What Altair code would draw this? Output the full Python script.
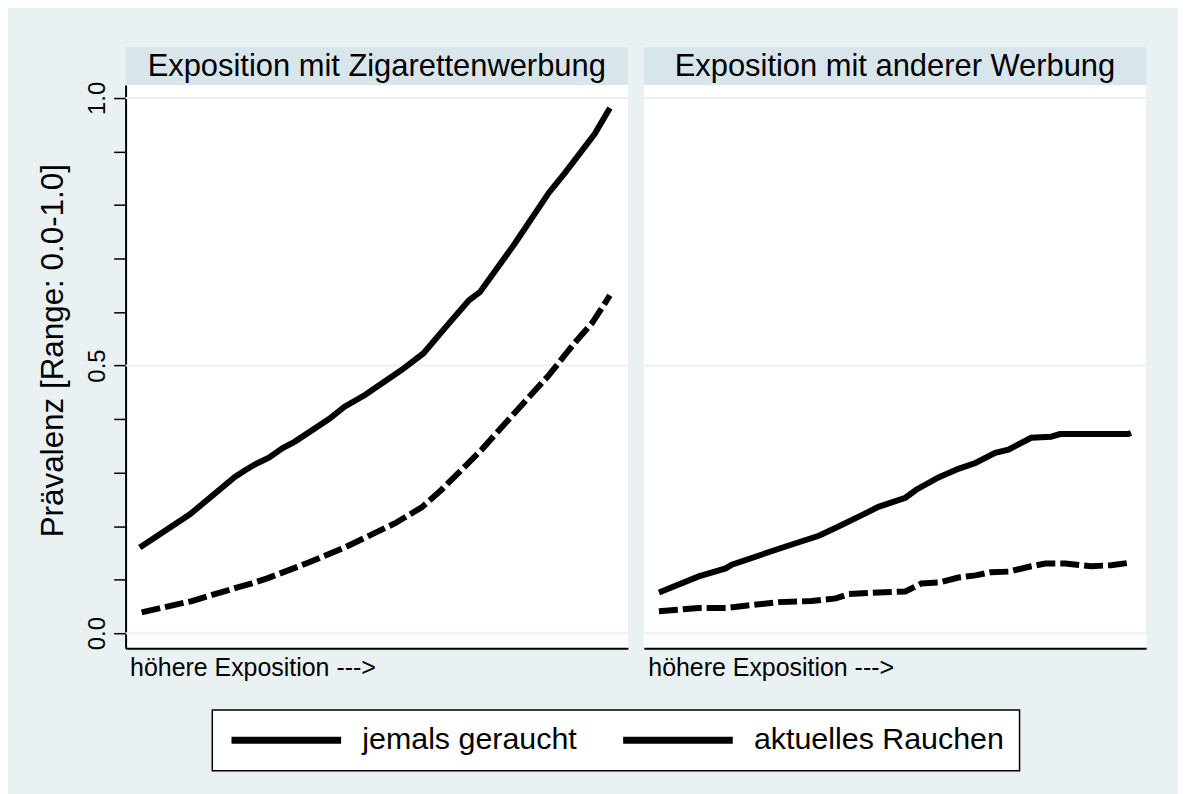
import altair as alt
import pandas as pd

panels = ["Exposition mit Zigarettenwerbung", "Exposition mit anderer Werbung"]
series = ["jemals geraucht", "aktuelles Rauchen"]

# Left panel: Exposition mit Zigarettenwerbung
zig_ever_x = [0, 10.6, 20.1, 22.2, 24.3, 27.3, 30.2, 32.8, 40.0, 43.3, 47.6, 55.4, 60.0, 64.5,
              69.6, 71.9, 79.3, 86.5, 89.9, 96.2, 99.4]
zig_ever_y = [0.160, 0.222, 0.292, 0.304, 0.315, 0.328, 0.346, 0.358, 0.400, 0.423, 0.445, 0.492,
              0.523, 0.570, 0.622, 0.637, 0.728, 0.823, 0.860, 0.933, 0.981]
zig_curr_x = [0.4, 11.0, 20.1, 23.7, 26.8, 30.4, 35.7, 43.3, 53.9, 59.6, 63.8, 72.3, 79.3, 86.5,
              91.9, 95.6, 99.4]
zig_curr_y = [0.039, 0.060, 0.084, 0.093, 0.102, 0.114, 0.132, 0.160, 0.205, 0.235, 0.268, 0.343,
              0.412, 0.482, 0.542, 0.579, 0.631]

# Right panel: Exposition mit anderer Werbung
and_ever_x = [0.2, 8.6, 14.3, 15.6, 27.0, 34.0, 37.6, 43.0, 46.6, 52.3, 54.6, 59.3, 63.5, 67.1,
              71.3, 74.1, 78.9, 83.1, 85.0, 99.4, 100]
and_ever_y = [0.076, 0.106, 0.121, 0.128, 0.162, 0.182, 0.197, 0.220, 0.236, 0.253, 0.268, 0.291,
              0.307, 0.318, 0.337, 0.343, 0.365, 0.367, 0.372, 0.372, 0.374]
and_curr_x = [0.2, 8.6, 14.3, 17.1, 25.5, 32.5, 37.6, 40.3, 46.6, 52.3, 55.7, 59.7, 63.5, 67.1,
              70.5, 74.1, 78.9, 81.9, 86.1, 91.6, 95.8, 100]
and_curr_y = [0.041, 0.047, 0.047, 0.050, 0.058, 0.060, 0.065, 0.073, 0.076, 0.078, 0.093, 0.095,
              0.104, 0.108, 0.114, 0.115, 0.125, 0.130, 0.130, 0.125, 0.127, 0.132]

grid_vals = [0.0, 0.5, 1.0]
tick_vals = [0.0, 0.1, 0.2, 0.3, 0.4, 0.5, 0.6, 0.7, 0.8, 0.9, 1.0]

BG = "#E9F1F3"
STRIP = "#D8E5EA"
GRID = "#EAF2F3"
FONT = "Liberation Sans"
W, H = 504, 565


def frame(panel, name, xs, ys):
    return pd.DataFrame({"panel": panel, "series": name, "x": xs, "y": ys})


df = pd.concat([
    frame(panels[0], series[0], zig_ever_x, zig_ever_y),
    frame(panels[0], series[1], zig_curr_x, zig_curr_y),
    frame(panels[1], series[0], and_ever_x, and_ever_y),
    frame(panels[1], series[1], and_curr_x, and_curr_y),
], ignore_index=True)

xscale = alt.Scale(domain=[-3.0, 103.2], nice=False, zero=False)
yscale = alt.Scale(domain=[-0.028, 1.024], nice=False, zero=False)

legend = alt.Legend(
    title=None, orient="none", legendX=87, legendY=627, direction="horizontal",
    fillColor="white", strokeColor="black", padding=15,
    symbolType="M-5,0H5", symbolSize=484, symbolStrokeWidth=7, symbolOffset=44,
    symbolDash=[1, 0],
    labelFontSize=30.5, labelFont=FONT, labelColor="black", labelOffset=61,
    columnPadding=32, labelLimit=0,
)


def make_panel(i):
    d = df[df.panel == panels[i]]
    if i == 0:
        yaxis = alt.Axis(
            values=tick_vals, grid=False, title="Prävalenz [Range: 0.0-1.0]",
            labelExpr="abs(datum.value*2 - round(datum.value*2)) < 0.001 ? format(datum.value, '.1f') : ''",
            labelAngle=270, labelAlign="center", labelBaseline="bottom",
            labelFontSize=24, labelFont=FONT, labelColor="black", labelPadding=4,
            tickSize=12, tickColor="black", tickWidth=1.5,
            domainColor="black", domainWidth=2,
            titleFontSize=31.5, titleFont=FONT, titleFontWeight="normal", titleColor="black",
            titlePadding=16, titleY=266,
        )
    else:
        yaxis = None
    xaxis = alt.Axis(
        title="höhere Exposition --->", labels=False, ticks=False, grid=False,
        domainColor="black", domainWidth=2,
        titleAnchor="start", titleAlign="left", titleX=4, titleFontSize=25, titleFont=FONT,
        titleFontWeight="normal", titleColor="black", titlePadding=7,
    )
    grid = alt.Chart(pd.DataFrame({"y": grid_vals})).mark_rule(
        color=GRID, strokeWidth=2
    ).encode(y=alt.Y("y:Q", scale=yscale, axis=yaxis))
    solid = alt.Chart(d[d.series == series[0]]).mark_line(strokeWidth=6, clip=True).encode(
        x=alt.X("x:Q", scale=xscale, axis=xaxis),
        y=alt.Y("y:Q", scale=yscale, axis=yaxis),
        color=alt.Color("series:N", scale=alt.Scale(domain=series, range=["black", "black"]),
                        legend=legend),
        order="x:Q",
    )
    dashed = alt.Chart(d[d.series == series[1]]).mark_line(
        strokeWidth=6, strokeDash=[19, 5], clip=True
    ).encode(
        x=alt.X("x:Q", scale=xscale, axis=xaxis),
        y=alt.Y("y:Q", scale=yscale, axis=yaxis),
        color=alt.value("black"),
        order="x:Q",
    )
    tdf = pd.DataFrame({"t": [panels[i]]})
    strip = alt.Chart(tdf).mark_rect(color=STRIP).encode(
        x=alt.value(0), x2=alt.value(W), y=alt.value(-38), y2=alt.value(0)
    )
    head = alt.Chart(tdf).mark_text(
        fontSize=31, font=FONT, color="black", baseline="middle", align="center"
    ).encode(x=alt.value(W / 2), y=alt.value(-18), text="t:N")
    return alt.layer(grid, solid, dashed, strip, head).properties(width=W, height=H)


chart = alt.hconcat(make_panel(0), make_panel(1), spacing=14).resolve_scale(
    color="shared"
).properties(
    background=BG,
    padding={"left": 30, "top": 38, "right": 31, "bottom": 24},
).configure_view(fill="white", stroke=None).configure_legend(strokeWidth=1.5)

chart.save("out.html", embed_options={"renderer": "svg", "actions": False})
